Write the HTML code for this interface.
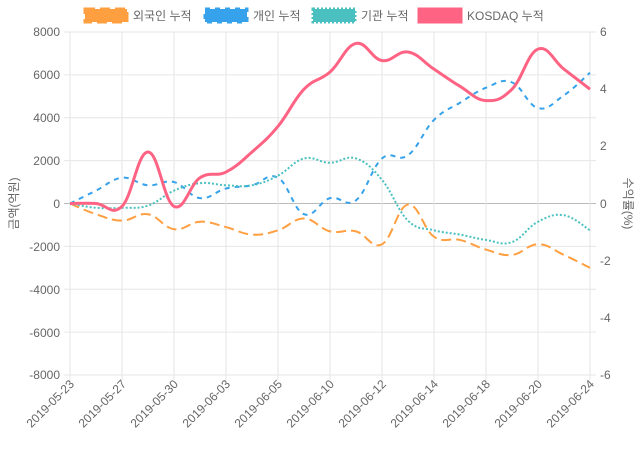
<!DOCTYPE html>
<html><head><meta charset="utf-8"><style>
html,body{margin:0;padding:0;background:#fff;}
svg{display:block;font-family:"Liberation Sans","Noto Sans CJK KR",sans-serif;}
text{fill:#666;font-size:12px;}
</style></head><body>
<svg id="s" width="640" height="450" viewBox="0 0 640 450">
<g id="grid" stroke="#e6e6e6" stroke-width="1"></g>
<g font-size="12">
<text x="60" y="36" text-anchor="end">8000</text>
<text x="60" y="79" text-anchor="end">6000</text>
<text x="60" y="122" text-anchor="end">4000</text>
<text x="60" y="165" text-anchor="end">2000</text>
<text x="60" y="208" text-anchor="end">0</text>
<text x="60" y="251" text-anchor="end">-2000</text>
<text x="60" y="294" text-anchor="end">-4000</text>
<text x="60" y="337" text-anchor="end">-6000</text>
<text x="60" y="379" text-anchor="end">-8000</text>
<text x="600" y="36">6</text>
<text x="600" y="93">4</text>
<text x="600" y="150">2</text>
<text x="600" y="208">0</text>
<text x="600" y="265">-2</text>
<text x="600" y="322">-4</text>
<text x="600" y="379">-6</text>
</g>
<text transform="translate(18,203.5) rotate(-90)" text-anchor="middle">금액(억원)</text>
<text transform="translate(624,203.5) rotate(90)" text-anchor="middle">수익률(%)</text>
<g id="lines"></g>
<g>
<rect x="85" y="9" width="42" height="13" fill="#ff9f40" stroke="#ff9f40" stroke-width="3" stroke-dasharray="10,5"/>
<text x="133" y="20">외국인 누적</text>
<rect x="205" y="9" width="42" height="13" fill="#36a2eb" stroke="#36a2eb" stroke-width="3" stroke-dasharray="5,5"/>
<text x="253" y="20">개인 누적</text>
<rect x="313" y="9" width="42" height="13" fill="#4bc0c0" stroke="#4bc0c0" stroke-width="3" stroke-dasharray="2,2"/>
<text x="361" y="20">기관 누적</text>
<rect x="419" y="9" width="42" height="13" fill="#ff6384" stroke="#ff6384" stroke-width="3"/>
<text x="467" y="20">KOSDAQ 누적</text>
</g>
<g id="xlabels">
<text transform="translate(72,382) rotate(-45)" text-anchor="end" dy="4">2019-05-23</text>
<text transform="translate(124,382) rotate(-45)" text-anchor="end" dy="4">2019-05-27</text>
<text transform="translate(176,382) rotate(-45)" text-anchor="end" dy="4">2019-05-30</text>
<text transform="translate(228,382) rotate(-45)" text-anchor="end" dy="4">2019-06-03</text>
<text transform="translate(280,382) rotate(-45)" text-anchor="end" dy="4">2019-06-05</text>
<text transform="translate(332,382) rotate(-45)" text-anchor="end" dy="4">2019-06-10</text>
<text transform="translate(384,382) rotate(-45)" text-anchor="end" dy="4">2019-06-12</text>
<text transform="translate(436,382) rotate(-45)" text-anchor="end" dy="4">2019-06-14</text>
<text transform="translate(488,382) rotate(-45)" text-anchor="end" dy="4">2019-06-18</text>
<text transform="translate(540,382) rotate(-45)" text-anchor="end" dy="4">2019-06-20</text>
<text transform="translate(592,382) rotate(-45)" text-anchor="end" dy="4">2019-06-24</text>
</g>
</svg>
<script>
(function(){
var NS="http://www.w3.org/2000/svg";
var g=document.getElementById('grid');
function ln(x1,y1,x2,y2,c){var l=document.createElementNS(NS,'line');l.setAttribute('x1',x1);l.setAttribute('y1',y1);l.setAttribute('x2',x2);l.setAttribute('y2',y2);if(c)l.setAttribute('stroke',c);g.appendChild(l);}
for(var i=0;i<=8;i++){var y=32+i*42.875;ln(64,y,596,y,i==4?'#bbb':null);}
for(var i=0;i<=10;i++){var x=70+i*52;ln(x,32,x,380);}
var y0=203.5,k=171.5/8000,kr=171.5/6;
var F=[0,-500,-800,-500,-1200,-850,-1100,-1450,-1250,-700,-1300,-1300,-1900,-50,-1550,-1700,-2150,-2400,-1900,-2400,-3000];
var P=[0,600,1200,850,1000,250,700,850,1200,-500,250,150,2100,2250,3900,4700,5400,5650,4450,5050,6100];
var I=[0,-200,-200,-100,600,950,850,850,1300,2100,1900,2100,1100,-800,-1250,-1450,-1700,-1800,-850,-550,-1250];
var K=[0,0,-0.1,1.8,-0.1,0.9,1.1,1.8,2.7,4,4.6,5.6,5.0,5.3,4.7,4.1,3.6,4.0,5.4,4.7,4.0];
function path(vals,sc){
 var p=vals.map(function(v,i){return [70+26*i,y0-v*sc];});
 var d='M'+p[0][0]+','+p[0][1];
 for(var i=0;i<p.length-1;i++){
  var a=p[Math.max(i-1,0)],b=p[i],c=p[i+1],e=p[Math.min(i+2,p.length-1)],t=0.2;
  d+=' C'+(b[0]+(c[0]-a[0])*t)+','+(b[1]+(c[1]-a[1])*t)+' '+(c[0]-(e[0]-b[0])*t)+','+(c[1]-(e[1]-b[1])*t)+' '+c[0]+','+c[1];
 }
 return d;
}
var L=document.getElementById('lines');
function add(d,col,w,da){var p=document.createElementNS(NS,'path');p.setAttribute('d',d);p.setAttribute('fill','none');p.setAttribute('stroke',col);p.setAttribute('stroke-width',w);if(da)p.setAttribute('stroke-dasharray',da);L.appendChild(p);}
add(path(F,k),'#ff9f40',2,'10,5');
add(path(P,k),'#36a2eb',2,'5,5');
add(path(I,k),'#4bc0c0',2,'2,2');
add(path(K,kr),'#ff6384',3,null);
})();
</script>
</body></html>
